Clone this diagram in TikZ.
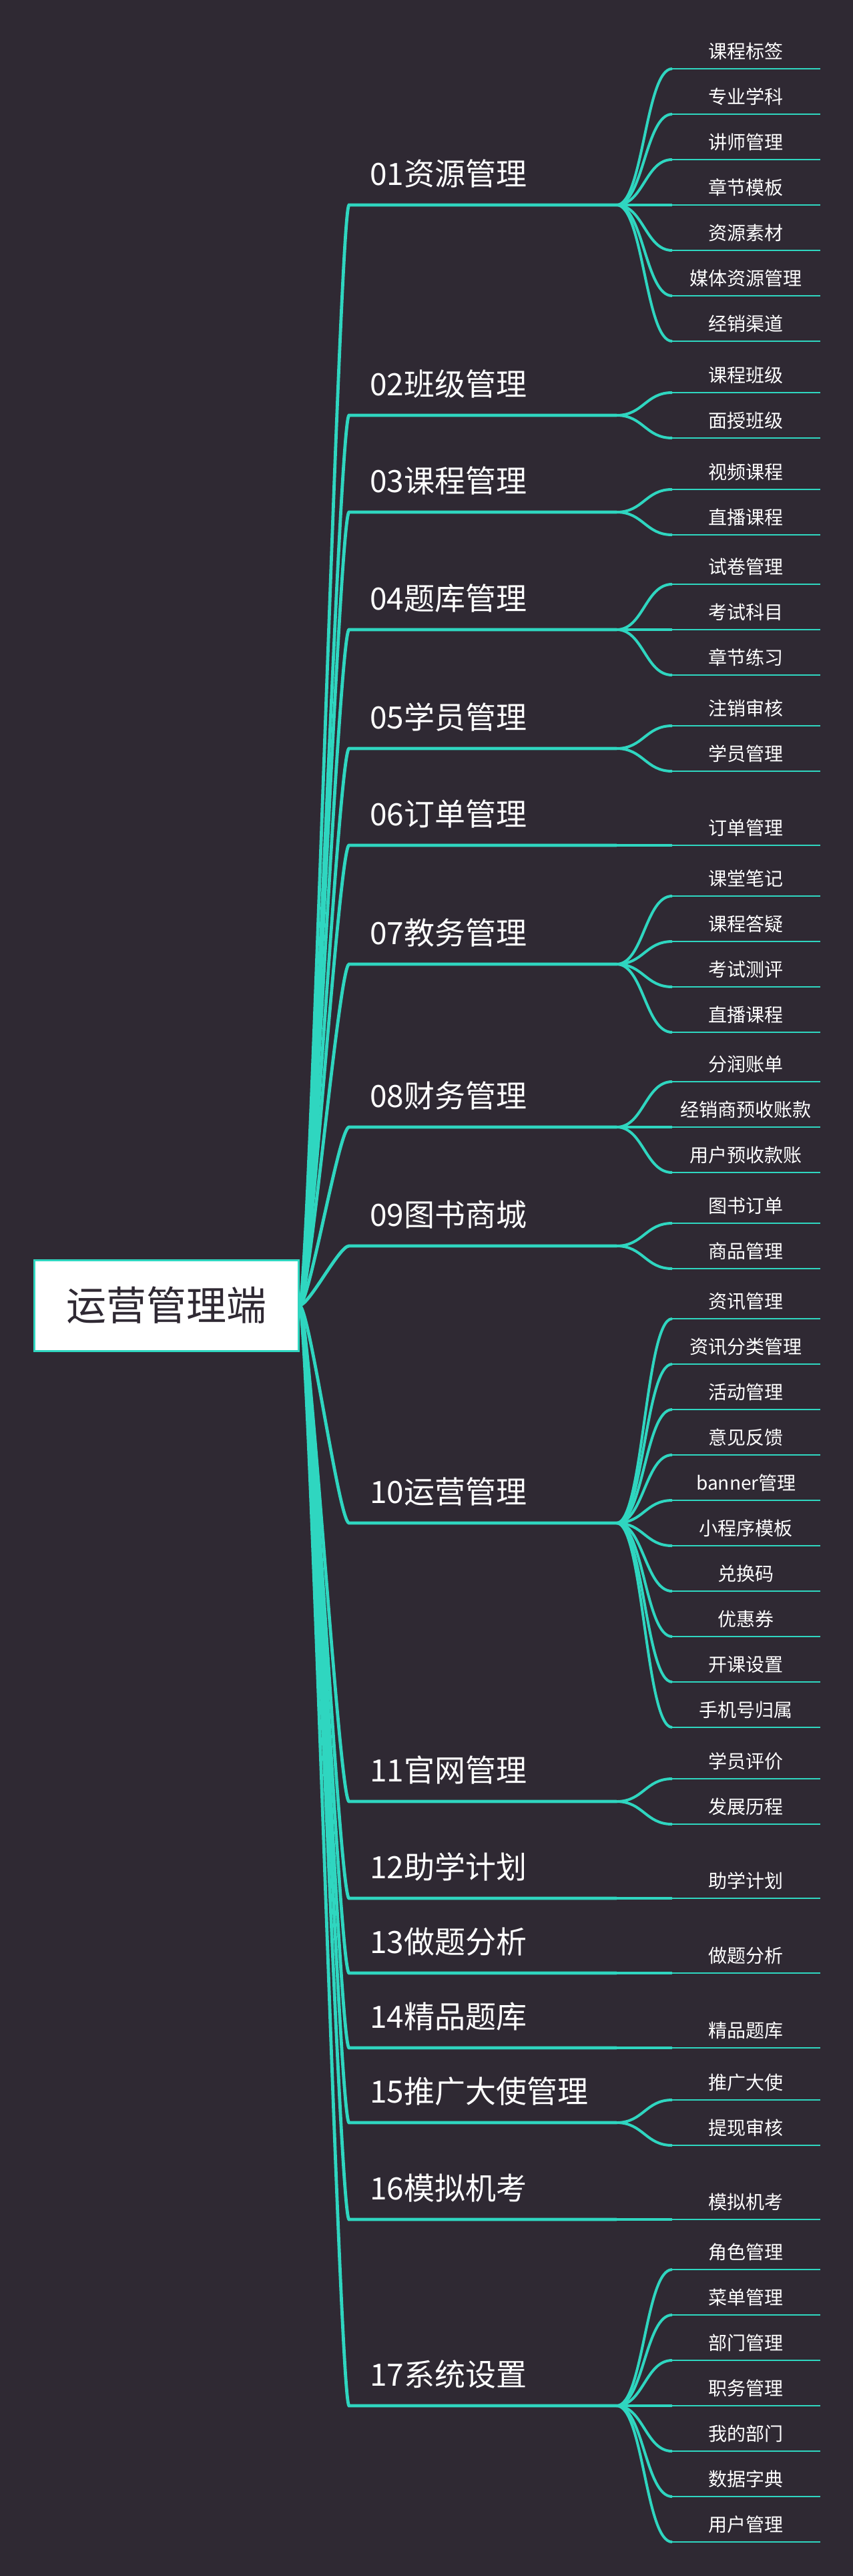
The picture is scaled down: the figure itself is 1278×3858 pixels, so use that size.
\documentclass[tikz,border=0pt]{standalone}
\usepackage{fontspec}
\setmainfont{Noto Sans CJK SC}
\usetikzlibrary{positioning}
\definecolor{mapbg}{HTML}{2F2933}
\definecolor{mapteal}{HTML}{2FD6C0}

\begin{document}
\begin{tikzpicture}[
    x=0.5pt, y=-0.5pt,
    root/.style={rectangle, draw=mapteal, line width=1.5pt, fill=white,
                 minimum width=198pt, minimum height=68pt,
                 text=mapbg, font=\fontsize{30pt}{36pt}\selectfont},
    branch/.style={anchor=south west, text width=169pt, align=left,
                   inner xsep=15.5pt, inner ysep=14.75pt, text depth=0pt,
                   text=white, font=\fontsize{23pt}{28pt}\selectfont},
    leaf/.style={anchor=south west, text width=110.5pt, align=center,
                 inner xsep=0pt, inner ysep=7.7pt, text depth=0pt,
                 text=white, font=\fontsize{14pt}{17pt}\selectfont},
    trunk/.style={mapteal, line width=2.4pt},
    twig/.style={mapteal, line width=2pt},
    uline/.style={mapteal, line width=1.15pt}
  ]
  \fill[mapbg] (0,0) rectangle (1278,3858);
  \useasboundingbox (0,0) rectangle (1278,3858);

  \node[root] (root) at (249,1955) {运营管理端};

  \node[branch] (b01) at (523,307)  {01资源管理};
  \node[branch] (b02) at (523,622)  {02班级管理};
  \node[branch] (b03) at (523,767)  {03课程管理};
  \node[branch] (b04) at (523,943)  {04题库管理};
  \node[branch] (b05) at (523,1121) {05学员管理};
  \node[branch] (b06) at (523,1266) {06订单管理};
  \node[branch] (b07) at (523,1444) {07教务管理};
  \node[branch] (b08) at (523,1688) {08财务管理};
  \node[branch] (b09) at (523,1866) {09图书商城};
  \node[branch] (b10) at (523,2281) {10运营管理};
  \node[branch] (b11) at (523,2698) {11官网管理};
  \node[branch] (b12) at (523,2843) {12助学计划};
  \node[branch] (b13) at (523,2955) {13做题分析};
  \node[branch] (b14) at (523,3067) {14精品题库};
  \node[branch] (b15) at (523,3179) {15推广大使管理};
  \node[branch] (b16) at (523,3324) {16模拟机考};
  \node[branch] (b17) at (523,3603) {17系统设置};

  % root to main branches
  \foreach \b in {01,02,03,04,05,06,07,08,09,10,11,12,13,14,15,16,17}
    \draw[trunk] (root.east) .. controls +(15,0) and +(-15,0) .. (b\b.south west)
      -- (b\b.south east);

  % leaves
  \foreach \ly/\lbl [count=\i] in {103/课程标签, 171/专业学科, 239/讲师管理,
      307/章节模板, 375/资源素材, 443/媒体资源管理, 511/经销渠道} {
    \node[leaf] (l01-\i) at (1007,\ly) {\lbl};
    \draw[twig] (b01.south east) .. controls +(40,0) and +(-40,0) .. (l01-\i.south west);
    \draw[uline] (l01-\i.south west) -- (l01-\i.south east);
  }
  \foreach \ly/\lbl [count=\i] in {588/课程班级, 656/面授班级} {
    \node[leaf] (l02-\i) at (1007,\ly) {\lbl};
    \draw[twig] (b02.south east) .. controls +(40,0) and +(-40,0) .. (l02-\i.south west);
    \draw[uline] (l02-\i.south west) -- (l02-\i.south east);
  }
  \foreach \ly/\lbl [count=\i] in {733/视频课程, 801/直播课程} {
    \node[leaf] (l03-\i) at (1007,\ly) {\lbl};
    \draw[twig] (b03.south east) .. controls +(40,0) and +(-40,0) .. (l03-\i.south west);
    \draw[uline] (l03-\i.south west) -- (l03-\i.south east);
  }
  \foreach \ly/\lbl [count=\i] in {875/试卷管理, 943/考试科目, 1011/章节练习} {
    \node[leaf] (l04-\i) at (1007,\ly) {\lbl};
    \draw[twig] (b04.south east) .. controls +(40,0) and +(-40,0) .. (l04-\i.south west);
    \draw[uline] (l04-\i.south west) -- (l04-\i.south east);
  }
  \foreach \ly/\lbl [count=\i] in {1087/注销审核, 1155/学员管理} {
    \node[leaf] (l05-\i) at (1007,\ly) {\lbl};
    \draw[twig] (b05.south east) .. controls +(40,0) and +(-40,0) .. (l05-\i.south west);
    \draw[uline] (l05-\i.south west) -- (l05-\i.south east);
  }
  \foreach \ly/\lbl [count=\i] in {1266/订单管理} {
    \node[leaf] (l06-\i) at (1007,\ly) {\lbl};
    \draw[twig] (b06.south east) -- (l06-\i.south west);
    \draw[uline] (l06-\i.south west) -- (l06-\i.south east);
  }
  \foreach \ly/\lbl [count=\i] in {1342/课堂笔记, 1410/课程答疑, 1478/考试测评, 1546/直播课程} {
    \node[leaf] (l07-\i) at (1007,\ly) {\lbl};
    \draw[twig] (b07.south east) .. controls +(40,0) and +(-40,0) .. (l07-\i.south west);
    \draw[uline] (l07-\i.south west) -- (l07-\i.south east);
  }
  \foreach \ly/\lbl [count=\i] in {1620/分润账单, 1688/经销商预收账款, 1756/用户预收款账} {
    \node[leaf] (l08-\i) at (1007,\ly) {\lbl};
    \draw[twig] (b08.south east) .. controls +(40,0) and +(-40,0) .. (l08-\i.south west);
    \draw[uline] (l08-\i.south west) -- (l08-\i.south east);
  }
  \foreach \ly/\lbl [count=\i] in {1832/图书订单, 1900/商品管理} {
    \node[leaf] (l09-\i) at (1007,\ly) {\lbl};
    \draw[twig] (b09.south east) .. controls +(40,0) and +(-40,0) .. (l09-\i.south west);
    \draw[uline] (l09-\i.south west) -- (l09-\i.south east);
  }
  \foreach \ly/\lbl [count=\i] in {1975/资讯管理, 2043/资讯分类管理, 2111/活动管理,
      2179/意见反馈, 2247/banner管理, 2315/小程序模板, 2383/兑换码,
      2451/优惠券, 2519/开课设置, 2587/手机号归属} {
    \node[leaf] (l10-\i) at (1007,\ly) {\lbl};
    \draw[twig] (b10.south east) .. controls +(40,0) and +(-40,0) .. (l10-\i.south west);
    \draw[uline] (l10-\i.south west) -- (l10-\i.south east);
  }
  \foreach \ly/\lbl [count=\i] in {2664/学员评价, 2732/发展历程} {
    \node[leaf] (l11-\i) at (1007,\ly) {\lbl};
    \draw[twig] (b11.south east) .. controls +(40,0) and +(-40,0) .. (l11-\i.south west);
    \draw[uline] (l11-\i.south west) -- (l11-\i.south east);
  }
  \foreach \ly/\lbl [count=\i] in {2843/助学计划} {
    \node[leaf] (l12-\i) at (1007,\ly) {\lbl};
    \draw[twig] (b12.south east) -- (l12-\i.south west);
    \draw[uline] (l12-\i.south west) -- (l12-\i.south east);
  }
  \foreach \ly/\lbl [count=\i] in {2955/做题分析} {
    \node[leaf] (l13-\i) at (1007,\ly) {\lbl};
    \draw[twig] (b13.south east) -- (l13-\i.south west);
    \draw[uline] (l13-\i.south west) -- (l13-\i.south east);
  }
  \foreach \ly/\lbl [count=\i] in {3067/精品题库} {
    \node[leaf] (l14-\i) at (1007,\ly) {\lbl};
    \draw[twig] (b14.south east) -- (l14-\i.south west);
    \draw[uline] (l14-\i.south west) -- (l14-\i.south east);
  }
  \foreach \ly/\lbl [count=\i] in {3145/推广大使, 3213/提现审核} {
    \node[leaf] (l15-\i) at (1007,\ly) {\lbl};
    \draw[twig] (b15.south east) .. controls +(40,0) and +(-40,0) .. (l15-\i.south west);
    \draw[uline] (l15-\i.south west) -- (l15-\i.south east);
  }
  \foreach \ly/\lbl [count=\i] in {3324/模拟机考} {
    \node[leaf] (l16-\i) at (1007,\ly) {\lbl};
    \draw[twig] (b16.south east) -- (l16-\i.south west);
    \draw[uline] (l16-\i.south west) -- (l16-\i.south east);
  }
  \foreach \ly/\lbl [count=\i] in {3399/角色管理, 3467/菜单管理, 3535/部门管理,
      3603/职务管理, 3671/我的部门, 3739/数据字典, 3807/用户管理} {
    \node[leaf] (l17-\i) at (1007,\ly) {\lbl};
    \draw[twig] (b17.south east) .. controls +(40,0) and +(-40,0) .. (l17-\i.south west);
    \draw[uline] (l17-\i.south west) -- (l17-\i.south east);
  }
\end{tikzpicture}
\end{document}
